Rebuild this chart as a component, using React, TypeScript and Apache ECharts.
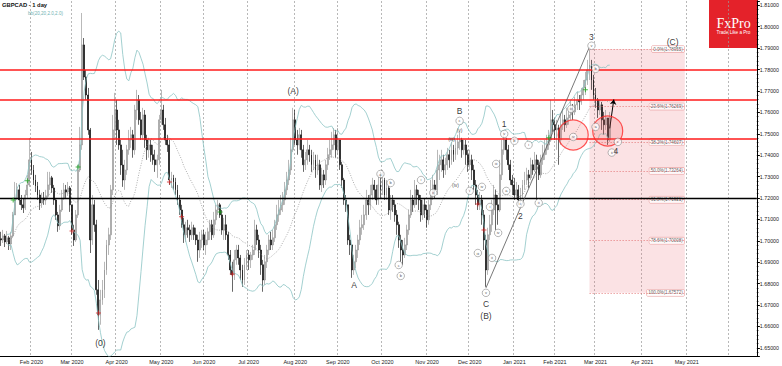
import React, { useEffect, useRef } from "react";
import * as echarts from "echarts";

// Daily bars: [close, high, low]; open = previous close
const jan2020 = [
  [1.7004,1.7042,1.6976],[1.7023,1.7051,1.6990],[1.6995,1.7032,1.6971],[1.7014,1.7046,1.6985],[1.6985,1.7023,1.6957],
  [1.7023,1.7042,1.6957],[1.7121,1.7135,1.7014],[1.7200,1.7275,1.7121],[1.7238,1.7270,1.7191],[1.7191,1.7261,1.7168],
  [1.7168,1.7214,1.7144],[1.7154,1.7200,1.7130],[1.7214,1.7238,1.7144],[1.7261,1.7308,1.7200],[1.7378,1.7480,1.7252]];
const feb2020 = [
  [1.7331,1.7415,1.7308],[1.7284,1.7354,1.7261],[1.7256,1.7308,1.7228],[1.7214,1.7275,1.7191],[1.7177,1.7238,1.7144],
  [1.7200,1.7224,1.7154],[1.7191,1.7228,1.7168],[1.7210,1.7238,1.7168],[1.7261,1.7322,1.7200],[1.7294,1.7322,1.7238],
  [1.7247,1.7303,1.7224],[1.7191,1.7261,1.7168],[1.7121,1.7200,1.7098],[1.7070,1.7135,1.7042],[1.7144,1.7168,1.7051],
  [1.7200,1.7238,1.7135],[1.7238,1.7270,1.7191],[1.7228,1.7261,1.7200],[1.7247,1.7275,1.7210],[1.7168,1.7256,1.7135]];
const mar2020 = [
  [1.7051,1.7168,1.7028],[1.7004,1.7075,1.6976],[1.7121,1.7144,1.6995],[1.7331,1.7354,1.7107],[1.7448,1.7532,1.7322],
  [1.7915,1.8064,1.7425],[1.7765,1.7947,1.7751],[1.7681,1.7798,1.7658],[1.7518,1.7714,1.7495],[1.7004,1.7527,1.6943],
  [1.7168,1.7214,1.6981],[1.7075,1.7191,1.7042],[1.6771,1.7098,1.6748],[1.6654,1.6817,1.6584],[1.6724,1.6771,1.6608],
  [1.6771,1.6817,1.6701],[1.6864,1.6902,1.6733],[1.6981,1.7004,1.6841],[1.7028,1.7061,1.6934],[1.7238,1.7261,1.7004],
  [1.7518,1.7588,1.7214],[1.7611,1.7691,1.7471]];
const apr2020 = [
  [1.7518,1.7658,1.7448],[1.7448,1.7565,1.7425],[1.7354,1.7471,1.7308],[1.7284,1.7425,1.7252],[1.7331,1.7378,1.7238],
  [1.7425,1.7448,1.7308],[1.7471,1.7518,1.7402],[1.7495,1.7532,1.7434],[1.7425,1.7518,1.7388],[1.7611,1.7635,1.7402],
  [1.7658,1.7705,1.7565],[1.7565,1.7681,1.7542],[1.7495,1.7602,1.7471],[1.7588,1.7621,1.7471],[1.7471,1.7611,1.7434],
  [1.7425,1.7495,1.7378],[1.7448,1.7481,1.7388],[1.7402,1.7471,1.7369],[1.7378,1.7448,1.7355],[1.7355,1.7425,1.7322],
  [1.7378,1.7402,1.7294],[1.7565,1.7588,1.7355]];
const may2020 = [
  [1.7611,1.7705,1.7542],[1.7542,1.7635,1.7518],[1.7471,1.7574,1.7448],[1.7448,1.7495,1.7415],[1.7284,1.7471,1.7261],
  [1.7294,1.7322,1.7247],[1.7275,1.7308,1.7238],[1.7238,1.7294,1.7214],[1.7191,1.7261,1.7168],[1.7144,1.7214,1.7121],
  [1.7075,1.7168,1.7061],[1.7028,1.7107,1.6990],[1.7061,1.7089,1.6995],[1.7051,1.7098,1.7014],[1.7028,1.7075,1.6995],
  [1.7061,1.7089,1.7004],[1.7028,1.7075,1.7004],[1.7004,1.7061,1.6981],[1.6957,1.7028,1.6902],[1.7004,1.7042,1.6920],
  [1.7028,1.7051,1.6967]];
const jun2020 = [
  [1.6981,1.7051,1.6957],[1.7004,1.7042,1.6934],[1.7042,1.7061,1.6981],[1.7075,1.7098,1.7004],[1.7028,1.7098,1.7004],
  [1.7098,1.7135,1.7014],[1.7144,1.7168,1.7075],[1.7168,1.7191,1.7121],[1.7121,1.7177,1.7107],[1.7051,1.7144,1.7028],
  [1.7075,1.7107,1.7004],[1.7028,1.7121,1.7004],[1.6934,1.7042,1.6911],[1.6864,1.6957,1.6841],[1.6841,1.6902,1.6762],
  [1.6911,1.6957,1.6817],[1.6957,1.6981,1.6888],[1.6920,1.6981,1.6888],[1.6864,1.6934,1.6817],[1.6817,1.6888,1.6785],
  [1.6888,1.6920,1.6794],[1.6934,1.6957,1.6864]];
const jul2020 = [
  [1.6911,1.6957,1.6864],[1.6934,1.6948,1.6873],[1.6957,1.6981,1.6911],[1.7051,1.7098,1.6934],[1.7004,1.7075,1.6981],
  [1.6957,1.7028,1.6920],[1.6888,1.6981,1.6841],[1.6817,1.6911,1.6762],[1.6902,1.6934,1.6794],[1.6957,1.6981,1.6873],
  [1.7004,1.7028,1.6934],[1.6981,1.7042,1.6957],[1.7014,1.7051,1.6957],[1.7075,1.7098,1.6995],[1.7121,1.7168,1.7051],
  [1.7144,1.7191,1.7089],[1.7168,1.7214,1.7121],[1.7191,1.7228,1.7135],[1.7238,1.7275,1.7168],[1.7284,1.7322,1.7214],
  [1.7331,1.7378,1.7261],[1.7425,1.7481,1.7308],[1.7565,1.7621,1.7415]];
const aug2020 = [
  [1.7471,1.7611,1.7448],[1.7448,1.7518,1.7402],[1.7495,1.7527,1.7425],[1.7425,1.7518,1.7388],[1.7355,1.7448,1.7322],
  [1.7378,1.7415,1.7331],[1.7425,1.7471,1.7355],[1.7402,1.7448,1.7369],[1.7355,1.7425,1.7322],[1.7378,1.7415,1.7331],
  [1.7331,1.7402,1.7294],[1.7355,1.7402,1.7308],[1.7261,1.7378,1.7238],[1.7308,1.7341,1.7228],[1.7284,1.7331,1.7247],
  [1.7355,1.7378,1.7261],[1.7402,1.7434,1.7331],[1.7425,1.7471,1.7378],[1.7448,1.7509,1.7388],[1.7495,1.7527,1.7425],
  [1.7425,1.7518,1.7388]];
const sep2020 = [
  [1.7471,1.7527,1.7402],[1.7355,1.7471,1.7331],[1.7284,1.7369,1.7247],[1.7191,1.7294,1.7168],[1.7168,1.7214,1.7135],
  [1.7004,1.7168,1.6981],[1.6981,1.7028,1.6934],[1.6864,1.6981,1.6827],[1.6902,1.6934,1.6841],[1.6957,1.6981,1.6873],
  [1.7004,1.7028,1.6920],[1.7061,1.7098,1.6981],[1.7075,1.7121,1.7028],[1.7121,1.7168,1.7051],[1.7191,1.7238,1.7098],
  [1.7168,1.7214,1.7121],[1.7214,1.7261,1.7144],[1.7261,1.7294,1.7191],[1.7238,1.7284,1.7200],[1.7191,1.7261,1.7168],
  [1.7261,1.7308,1.7168],[1.7238,1.7322,1.7200]];
const oct2020 = [
  [1.7284,1.7331,1.7214],[1.7214,1.7294,1.7191],[1.7247,1.7284,1.7191],[1.7144,1.7261,1.7121],[1.7191,1.7214,1.7098],
  [1.7168,1.7214,1.7135],[1.7121,1.7191,1.7089],[1.7075,1.7144,1.7028],[1.7004,1.7089,1.6967],[1.6957,1.7028,1.6902],
  [1.6934,1.7004,1.6888],[1.6981,1.7014,1.6920],[1.7051,1.7075,1.6957],[1.7121,1.7144,1.7028],[1.7191,1.7238,1.7107],
  [1.7168,1.7214,1.7135],[1.7238,1.7284,1.7154],[1.7214,1.7261,1.7168],[1.7191,1.7238,1.7144],[1.7121,1.7214,1.7089],
  [1.7168,1.7191,1.7098],[1.7144,1.7200,1.7107]];
const nov2020 = [
  [1.7098,1.7168,1.7061],[1.7168,1.7191,1.7075],[1.7214,1.7284,1.7144],[1.7261,1.7308,1.7191],[1.7238,1.7284,1.7200],
  [1.7331,1.7425,1.7214],[1.7355,1.7402,1.7284],[1.7378,1.7425,1.7322],[1.7331,1.7402,1.7294],[1.7355,1.7388,1.7308],
  [1.7402,1.7434,1.7331],[1.7378,1.7425,1.7341],[1.7425,1.7462,1.7355],[1.7402,1.7448,1.7369],[1.7434,1.7471,1.7378],
  [1.7462,1.7495,1.7402],[1.7471,1.7509,1.7425],[1.7425,1.7481,1.7388],[1.7448,1.7471,1.7402],[1.7402,1.7471,1.7355],
  [1.7355,1.7425,1.7322]];
const dec2020 = [
  [1.7378,1.7425,1.7331],[1.7331,1.7402,1.7284],[1.7261,1.7355,1.7238],[1.7214,1.7284,1.7168],[1.7168,1.7238,1.7144],
  [1.7191,1.7228,1.7144],[1.7121,1.7214,1.7075],[1.7004,1.7144,1.6957],[1.6864,1.7028,1.6785],[1.7028,1.7061,1.6841],
  [1.7075,1.7121,1.7004],[1.7144,1.7191,1.7042],[1.7214,1.7261,1.7121],[1.7168,1.7238,1.7051],[1.7144,1.7214,1.7075],
  [1.7308,1.7378,1.7135],[1.7425,1.7471,1.7284],[1.7471,1.7509,1.7402],[1.7425,1.7481,1.7378],[1.7355,1.7448,1.7331],
  [1.7284,1.7378,1.7261],[1.7261,1.7308,1.7214]];
const jan2021 = [
  [1.7214,1.7294,1.7191],[1.7238,1.7275,1.7200],[1.7191,1.7261,1.7168],[1.7214,1.7247,1.7177],[1.7261,1.7284,1.7200],
  [1.7284,1.7322,1.7238],[1.7308,1.7341,1.7261],[1.7294,1.7331,1.7247],[1.7355,1.7388,1.7284],[1.7331,1.7378,1.7308],
  [1.7378,1.7415,1.7322],[1.7355,1.7402,1.7191],[1.7308,1.7378,1.7284],[1.7378,1.7402,1.7294],[1.7402,1.7448,1.7355],
  [1.7425,1.7471,1.7378],[1.7448,1.7495,1.7402],[1.7471,1.7518,1.7425],[1.7565,1.7658,1.7462],[1.7542,1.7611,1.7509]];
const feb2021 = [
  [1.7518,1.7574,1.7471],[1.7527,1.7565,1.7425],[1.7471,1.7542,1.7355],[1.7542,1.7588,1.7448],[1.7565,1.7611,1.7518],
  [1.7542,1.7588,1.7509],[1.7574,1.7621,1.7527],[1.7588,1.7621,1.7542],[1.7611,1.7658,1.7565],[1.7602,1.7639,1.7565],
  [1.7635,1.7672,1.7588],[1.7658,1.7695,1.7611],[1.7649,1.7681,1.7611],[1.7681,1.7714,1.7635],[1.7714,1.7751,1.7658],
  [1.7751,1.7789,1.7681],[1.7798,1.7845,1.7728],[1.7822,1.7892,1.7751],[1.7751,1.7845,1.7705],[1.7681,1.7775,1.7658]];
const mar2021 = [
  [1.7658,1.7714,1.7621],[1.7611,1.7667,1.7574],[1.7635,1.7658,1.7588],[1.7565,1.7649,1.7518],[1.7542,1.7602,1.7495],
  [1.7574,1.7611,1.7518],[1.7471,1.7574,1.7448],[1.7574,1.7602,1.7462]];
const firstOpen = 1.701;

// Horizontal levels and price tags on the right axis
const redLevels = [1.7798, 1.76601, 1.74754];
const blackLevel = 1.72;
const tagValues = [1.76601, 1.75771, 1.75557, 1.74754];
const tagColors = ["#b7c3ef", "#c3e4e4", "#dcecec", "#f3b5b5"];

// Fibonacci retracement
const fibStart = "2021-02-24";
const fibEnd = "2021-04-30";
const fibNames = ["0.0%", "23.6%", "38.2%", "50.0%", "61.8%", "78.6%", "100.0%"];
const fibLevels = [1.78955, 1.76269, 1.74607, 1.73264, 1.71921, 1.70008, 1.67572];

// Elliott-wave labels [text, date, price]
const bigLabels = [
  ["(0)", "2020-03-20", 1.6523], ["(A)", "2020-07-31", 1.7700], ["A", "2020-09-11", 1.6794],
  ["B", "2020-11-24", 1.7607], ["C", "2020-12-11", 1.6705], ["(B)", "2020-12-11", 1.6649],
  ["1", "2020-12-24", 1.7546], ["2", "2021-01-07", 1.7116], ["3", "2021-02-25", 1.7952],
  ["4", "2021-03-15", 1.7418], ["(C)", "2021-04-22", 1.7929]];
const smallLabels = [
  ["(v)", "2020-11-24", 1.7518], ["(iii)", "2020-11-18", 1.7476], ["(iv)", "2020-11-20", 1.7261]];
const circledLabels = [
  ["c", "2020-11-24", 1.7560], ["i", "2020-12-01", 1.7233], ["iv", "2020-12-09", 1.7252],
  ["i", "2020-12-15", 1.7158], ["iii", "2020-12-18", 1.7359], ["v", "2020-12-24", 1.7499],
  ["b", "2021-01-04", 1.7467], ["a", "2020-12-28", 1.7233], ["c", "2021-01-07", 1.7172],
  ["i", "2021-01-13", 1.7448], ["ii", "2021-01-20", 1.7177], ["iv", "2020-12-21", 1.7037],
  ["iii", "2020-12-07", 1.6943], ["ii", "2020-12-16", 1.6920], ["v", "2020-12-11", 1.6757],
  ["iii", "2021-02-11", 1.7616], ["iv", "2021-02-12", 1.7485], ["v", "2021-02-25", 1.7911],
  ["b", "2021-03-01", 1.7803], ["a", "2021-03-01", 1.7532], ["c", "2021-03-16", 1.7462],
  ["ii", "2021-03-11", 1.7412], ["a", "2020-09-30", 1.7312], ["b", "2020-10-07", 1.7270],
  ["c", "2020-10-13", 1.6887], ["b", "2020-10-14", 1.6836], ["i", "2020-10-28", 1.7284],
  ["ii", "2020-11-05", 1.7224]];
const buySignals = [["2020-01-21", 1.7191], ["2020-01-30", 1.7280], ["2020-03-05", 1.7345], ["2020-06-11", 1.7135], ["2021-01-27", 1.7481], ["2021-02-22", 1.7705]];
const sellSignals = [["2020-03-02", 1.7046], ["2020-03-19", 1.6663], ["2020-05-07", 1.7275], ["2020-05-15", 1.7112], ["2020-06-19", 1.6845], ["2020-12-07", 1.7172], ["2020-12-10", 1.7051]];
const waveLine = [["2020-12-11", 1.6780], ["2021-02-24", 1.7905]];
const arrowLine = [["2021-03-10", 1.7525], ["2021-03-12", 1.7660]];
const highlightCircles = [["2021-02-12", 1.7494], ["2021-03-09", 1.7513]];

const monthNames = ["Jan", "Feb", "Mar", "Apr", "May", "Jun", "Jul", "Aug", "Sep", "Oct", "Nov", "Dec"];
const holidays = ["2020-12-25", "2021-01-01"];
const categoryCount = 373;

function buildDates(): string[] {
  const out: string[] = [];
  const d = new Date(Date.UTC(2020, 0, 13));
  while (out.length < categoryCount) {
    const wd = d.getUTCDay();
    const s = d.toISOString().slice(0, 10);
    if (wd !== 0 && wd !== 6 && holidays.indexOf(s) < 0) out.push(s);
    d.setUTCDate(d.getUTCDate() + 1);
  }
  return out;
}

export default function App() {
  const ref = useRef<HTMLDivElement>(null);
  useEffect(() => {
    if (!ref.current) return;
    const chart = echarts.init(ref.current, null, { renderer: "svg" });
    const dates = buildDates();
    const rows = [jan2020, feb2020, mar2020, apr2020, may2020, jun2020, jul2020, aug2020, sep2020, oct2020, nov2020, dec2020, jan2021, feb2021, mar2021].flat();
    const candles = rows.map((r, i) => {
      const o = i === 0 ? firstOpen : rows[i - 1][0];
      const c = r[0];
      return [o, c, Math.min(r[2], o, c), Math.max(r[1], o, c)];
    });
    const closes = rows.map((r) => r[0]);
    const band = (k: number) =>
      closes.map((_, i) => {
        if (i < 3) return "-";
        const w = closes.slice(Math.max(0, i - 19), i + 1);
        const m = w.reduce((a, b) => a + b, 0) / w.length;
        const sd = Math.sqrt(w.reduce((a, b) => a + (b - m) * (b - m), 0) / w.length);
        return +(m + k * sd).toFixed(5);
      });
    const monthStart = (i: number) => i > 0 && dates[i].slice(0, 7) !== dates[i - 1].slice(0, 7);
    const labelStart = (i: number) => monthStart(i) && dates[i] < "2021-06";
    const font = "Liberation Sans";

    const option: any = {
      animation: false,
      backgroundColor: "#ffffff",
      textStyle: { fontFamily: font },
      grid: { left: 0, right: 22, top: 1, bottom: 10 },
      xAxis: {
        type: "category",
        data: dates,
        boundaryGap: true,
        axisLine: { lineStyle: { color: "#000", width: 1 } },
        axisTick: { interval: (i: number) => monthStart(i), length: 2, alignWithLabel: true, lineStyle: { color: "#000" } },
        axisLabel: {
          interval: (i: number) => labelStart(i),
          formatter: (v: string) => monthNames[+v.slice(5, 7) - 1] + " " + v.slice(0, 4),
          fontSize: 5.5, color: "#222", margin: 3, fontFamily: font,
        },
        splitLine: { show: true, interval: (i: number) => monthStart(i), lineStyle: { color: "#9a9a9a", width: 0.7, type: [2, 2] } },
      },
      yAxis: {
        type: "value",
        position: "right",
        min: 1.6462,
        max: 1.812,
        splitNumber: 16,
        axisLine: { show: true, lineStyle: { color: "#000", width: 1 } },
        axisTick: { show: true, length: 3, lineStyle: { color: "#000" } },
        minorTick: { show: true, splitNumber: 5, length: 1.5, lineStyle: { color: "#000" } },
        splitLine: { show: false },
        axisLabel: {
          fontSize: 5.3, color: "#222", margin: 3, fontFamily: font,
          formatter: (v: number) => (Math.abs(v * 100 - Math.round(v * 100)) > 1e-6 ? "" : v.toFixed(5)),
        },
      },
      series: [
        {
          name: "fib",
          type: "scatter",
          z: 1,
          symbolSize: 1,
          itemStyle: { color: "rgba(0,0,0,0)" },
          data: fibLevels.map((v) => [fibEnd, v]),
          label: {
            show: true, position: "left", distance: 0,
            formatter: (p: any) => fibNames[p.dataIndex] + "(" + fibLevels[p.dataIndex].toFixed(5) + ")",
            fontSize: 4.5, color: "#333", backgroundColor: "#fff", borderColor: "#e58a8a", borderWidth: 0.5,
            padding: [1, 1.5, 0.5, 1.5], borderRadius: 1,
          },
          markArea: {
            silent: true,
            itemStyle: { color: "rgba(236,110,120,0.2)" },
            data: [[{ coord: [fibStart, fibLevels[0]] }, { coord: [fibEnd, fibLevels[fibLevels.length - 1]] }]],
          },
          markLine: {
            silent: true, symbol: ["none", "none"], label: { show: false }, precision: 5,
            lineStyle: { color: "#e06a6a", type: [1.5, 1.5], width: 0.6 },
            data: fibLevels.map((v) => [{ coord: [fibStart, v] }, { coord: [fibEnd, v] }]),
          },
        },
        {
          name: "GBPCAD",
          type: "candlestick",
          z: 2,
          barWidth: 1.4,
          data: candles,
          itemStyle: { color: "#c8c8c8", color0: "#000000", borderColor: "#8a8a8a", borderColor0: "#000000", borderWidth: 0.6 },
        },
        { name: "bbUp", type: "line", z: 3, data: band(2), showSymbol: false, lineStyle: { color: "#8cc4c4", width: 0.8 } },
        { name: "bbMid", type: "line", z: 3, data: band(0), showSymbol: false, lineStyle: { color: "#8a8a8a", width: 0.7, type: [1, 1.5] } },
        { name: "bbLow", type: "line", z: 3, data: band(-2), showSymbol: false, lineStyle: { color: "#8cc4c4", width: 0.8 } },
        {
          name: "levels",
          type: "scatter",
          z: 5,
          symbolSize: 1,
          itemStyle: { color: "rgba(0,0,0,0)" },
          data: [[dates[0], blackLevel]],
          markLine: {
            silent: true, symbol: ["none", "none"], precision: 5,
            data: [
              ...redLevels.map((v) => ({ yAxis: v, lineStyle: { color: "#ff1a1a", width: 1.6, type: "solid" }, label: { show: false } })),
              { yAxis: blackLevel, lineStyle: { color: "#000", width: 1.4, type: "solid" }, label: { show: false } },
              ...tagValues.map((v, k) => ({
                yAxis: v,
                lineStyle: { opacity: 0 },
                label: {
                  show: true, position: "end", distance: 1, formatter: v.toFixed(5),
                  fontSize: 4.5, color: "#111", backgroundColor: tagColors[k], padding: [0, 1, 0, 1], lineHeight: 4.6,
                },
              })),
            ],
          },
        },
        {
          name: "circles",
          type: "scatter",
          z: 6,
          symbolSize: 30,
          itemStyle: { color: "rgba(245,110,110,0.28)", borderColor: "#ff2a2a", borderWidth: 1.2 },
          data: highlightCircles,
          markLine: {
            silent: true,
            symbol: ["none", "none"],
            label: { show: false },
            precision: 5,
            data: [
              [{ coord: waveLine[0], lineStyle: { color: "#555", width: 0.8, type: "solid" } }, { coord: waveLine[1] }],
              [{ coord: arrowLine[0], symbol: "none", lineStyle: { color: "#000", width: 1, type: "solid" } }, { coord: arrowLine[1], symbol: "arrow", symbolSize: 5 }],
            ],
          },
        },
        {
          name: "buy",
          type: "scatter",
          z: 7,
          symbol: "path://M2,0H3V2H5V3H3V5H2V3H0V2H2Z",
          symbolSize: 5,
          itemStyle: { color: "#19a319" },
          data: buySignals,
        },
        {
          name: "sell",
          type: "scatter",
          z: 7,
          symbol: "path://M2,0H3V2H5V3H3V5H2V3H0V2H2Z",
          symbolSize: 5,
          itemStyle: { color: "#d42020" },
          data: sellSignals,
        },
        {
          name: "circled",
          type: "scatter",
          z: 8,
          symbol: "circle",
          symbolSize: 7.5,
          itemStyle: { color: "#ffffff", borderColor: "#6a6a6a", borderWidth: 0.6 },
          data: circledLabels.map((r) => [r[1], r[2]]),
          label: { show: true, position: "inside", fontSize: 4, color: "#222", formatter: (p: any) => circledLabels[p.dataIndex][0] },
        },
        {
          name: "small",
          type: "scatter",
          z: 8,
          symbolSize: 1,
          itemStyle: { color: "rgba(0,0,0,0)" },
          data: smallLabels.map((r) => [r[1], r[2]]),
          label: { show: true, position: "inside", fontSize: 5, color: "#222", formatter: (p: any) => smallLabels[p.dataIndex][0] },
        },
        {
          name: "waves",
          type: "scatter",
          z: 8,
          symbolSize: 1,
          itemStyle: { color: "rgba(0,0,0,0)" },
          data: bigLabels.map((r) => [r[1], r[2]]),
          label: { show: true, position: "inside", fontSize: 8.5, color: "#000", formatter: (p: any) => bigLabels[p.dataIndex][0] },
        },
      ],
      graphic: [
        { type: "text", left: 2, top: 2, style: { text: "GBPCAD - 1 day", fontSize: 5.8, fontWeight: "bold", fill: "#111", fontFamily: font } },
        { type: "text", left: 28, top: 10.5, style: { text: "bb(20,20,2.0,2.0)", fontSize: 4.6, fill: "#6fb2b2", fontFamily: font } },
        {
          type: "group", right: 24, top: 0,
          children: [
            { type: "rect", shape: { x: 0, y: 0, width: 49, height: 48 }, style: { fill: "#e4222a" } },
            { type: "text", x: 24.5, y: 23, style: { text: "FxPro", fontSize: 14, fill: "#fff", fontFamily: "Liberation Serif", align: "center", verticalAlign: "middle" } },
            { type: "text", x: 24.5, y: 32, style: { text: "Trade Like a Pro", fontSize: 4.6, fill: "#fff", fontFamily: font, align: "center", verticalAlign: "middle" } },
          ],
        },
      ],
    };
    chart.setOption(option);
    return () => chart.dispose();
  }, []);
  return <div ref={ref} style={{ position: "absolute", left: 0, top: 0, width: 782, height: 366 }} />;
}
